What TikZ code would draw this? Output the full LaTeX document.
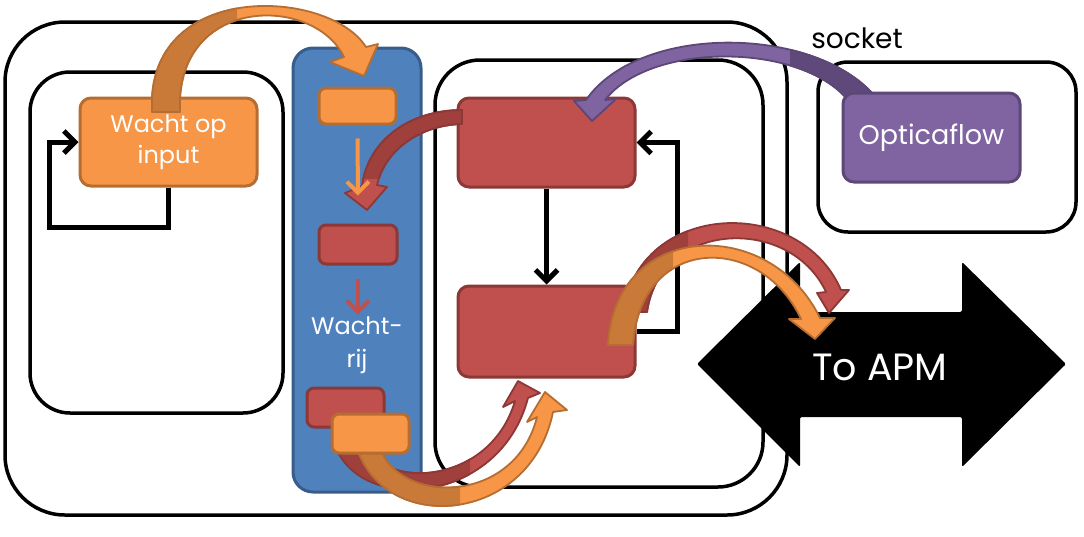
\documentclass[tikz,border=0pt]{standalone}
\usepackage{fontspec}
\setmainfont{Poppins}
\usetikzlibrary{arrows.meta,calc}
\definecolor{org}{HTML}{F79646}
\definecolor{orgB}{HTML}{B66D31}
\definecolor{orgD}{HTML}{C97A38}
\definecolor{rd}{HTML}{C0504D}
\definecolor{rdB}{HTML}{8C3836}
\definecolor{rdD}{HTML}{9F403D}
\definecolor{pu}{HTML}{8064A2}
\definecolor{puB}{HTML}{5C4776}
\definecolor{puD}{HTML}{5F497A}
\definecolor{bl}{HTML}{4F81BD}
\definecolor{blB}{HTML}{385D8A}
\begin{document}
\begin{tikzpicture}[x=1pt,y=-1pt,
  box/.style={rounded corners=11pt, line width=3pt, inner sep=0pt, text=white, align=center},
  obox/.style={box, fill=org, draw=orgB},
  rbox/.style={box, fill=rd, draw=rdB},
  pbox/.style={box, fill=pu, draw=puB},
  sbox/.style={rounded corners=7pt},
  frame/.style={line width=3.5pt, black, rounded corners=#1},
  blk/.style={draw=black, line width=5pt, line join=miter, -{Straight Barb[length=11pt,width=22pt]}},
  small/.style={line width=4pt, -{Straight Barb[length=11pt,width=22pt]}},
  band/.style={line width=1.8pt, line join=round},
  bigfont/.style={font=\fontsize{24}{33}\selectfont}]
\useasboundingbox (0,0) rectangle (1084,536);
% frames
\draw[frame=60pt] (5,22) rectangle (787,515);
\draw[frame=40pt] (30,72) rectangle (283,413);
\draw[frame=45pt] (435,60) rectangle (763,487);
\draw[frame=30pt] (818,62) rectangle (1076,232);
\draw[line width=3pt, draw=blB, fill=bl, rounded corners=20pt] (293,48) rectangle (421,492);
\node[text=black, font=\fontsize{28}{30}\selectfont] (socket) at (857,38) {socket};
% big double arrow
\fill[black, rounded corners=2pt] (697,364) -- (800,262) -- (800,312) -- (962,312) -- (962,262) -- (1066,364) -- (962,467) -- (962,417) -- (800,417) -- (800,467) -- cycle;
% nodes
\node[obox, bigfont, minimum width=177pt, minimum height=88pt] (wacht) at (168.5,142) {Wacht op\\[-2pt]input};
\node[rbox, minimum width=177pt, minimum height=89pt] (redtop) at (546.5,142.5) {};
\node[rbox, minimum width=177pt, minimum height=91pt] (redbot) at (546.5,331.5) {};
% black connectors
\draw[blk] (wacht.south) -- ++(0,40) -| ($(wacht.west)+(-29,0)$) -- (wacht.west);
\draw[blk] (redbot.east) -- ++(41,0) |- (redtop.east);
\draw[blk] (redtop.south) -- (redbot.north);
% curved bands
\def\bandA{(152,112) -- (152,98) .. controls (158,-20) and (330,-10) .. (366,47) -- (378,44) -- (364,76) -- (330,62) -- (344,57) .. controls (315,-3) and (186,-5) .. (180,98) -- (180,112) -- cycle}
\def\bandB{(462,110) .. controls (410,110) and (368,140) .. (362,186) -- (345,193) -- (367,210) -- (387,187) -- (377,185) .. controls (385,150) and (420,125) .. (462,124) -- cycle}
\def\bandC{(878,100) .. controls (820,25) and (640,22) .. (586,100) -- (574,101) -- (592,121) -- (616,99) -- (605,100) .. controls (650,42) and (800,42) .. (848,100) -- cycle}
\def\bandD{(623,312) .. controls (640,200) and (800,195) .. (841,290) -- (849,290) -- (829,313) -- (817,293) -- (826,292) .. controls (790,215) and (660,220) .. (647,312) -- cycle}
\def\bandDp{(608,345) .. controls (615,220) and (770,215) .. (820,318) -- (835,318) -- (815,339) -- (789,319) -- (801,319) .. controls (760,232) and (640,235) .. (633,345) -- cycle}
\def\bandE{(335,445) .. controls (360,515) and (500,505) .. (528,398) -- (540,393) -- (518,381) -- (503,407) -- (515,401) .. controls (490,485) and (385,490) .. (365,445) -- cycle}
\def\bandEp{(357,448) .. controls (385,535) and (530,525) .. (553,412) -- (567,410) -- (545,392) -- (527,422) -- (537,417) .. controls (515,505) and (400,505) .. (380,448) -- cycle}
% band A
\filldraw[band, fill=org, draw=orgB] \bandA;
\begin{scope}\clip (140,0) rectangle (237,120); \filldraw[band, fill=orgD, draw=orgB] \bandA; \end{scope}
% band B
\filldraw[band, fill=rd, draw=rdB] \bandB;
\begin{scope}\clip (340,100) rectangle (470,178); \filldraw[band, fill=rdD, draw=rdB] \bandB; \end{scope}
% band E
\filldraw[band, fill=rd, draw=rdB] \bandE;
\begin{scope}\clip (320,430) rectangle (470,520); \filldraw[band, fill=rdD, draw=rdB] \bandE; \end{scope}
% band E'
\filldraw[band, fill=org, draw=orgB] \bandEp;
\begin{scope}\clip (340,430) rectangle (460,530); \filldraw[band, fill=orgD, draw=orgB] \bandEp; \end{scope}
% small boxes in queue
\node[rbox, sbox, minimum width=78pt, minimum height=39pt] (rmid) at (358,244.5) {};
\node[rbox, sbox, minimum width=77pt, minimum height=39pt] (rlow) at (345.5,407.5) {};
\node[obox, sbox, minimum width=77pt, minimum height=39pt] (olow) at (370.5,433.5) {};
\node[obox, sbox, minimum width=77pt, minimum height=36pt] (otop) at (357.5,106) {};
\draw[small, draw=org] ([yshift=-13pt]otop.south) -- ([yshift=28pt]rmid.north);
\draw[small, draw=rd] ([yshift=-13pt]rmid.south) -- ++(0,36);
\node[text=white, bigfont, align=center] (wrij) at (357,345) {Wacht-\\rij};
% band C and opticaflow
\filldraw[band, fill=pu, draw=puB] \bandC;
\begin{scope}\clip (790,20) rectangle (900,110); \filldraw[band, fill=puD, draw=puB] \bandC; \end{scope}
\node[pbox, minimum width=177pt, minimum height=89pt, font=\fontsize{27}{30}\selectfont] (optica) at (931.5,137.5) {Opticaflow};
% bands D, D'
\filldraw[band, fill=rd, draw=rdB] \bandD;
\begin{scope}\clip (600,200) rectangle (688,330); \filldraw[band, fill=rdD, draw=rdB] \bandD; \end{scope}
\filldraw[band, fill=org, draw=orgB] \bandDp;
\begin{scope}\clip (590,230) rectangle (673,360); \filldraw[band, fill=orgD, draw=orgB] \bandDp; \end{scope}
\node[text=white, font=\fontsize{38}{40}\selectfont] (apm) at (880,367) {To APM};
\end{tikzpicture}
\end{document}
